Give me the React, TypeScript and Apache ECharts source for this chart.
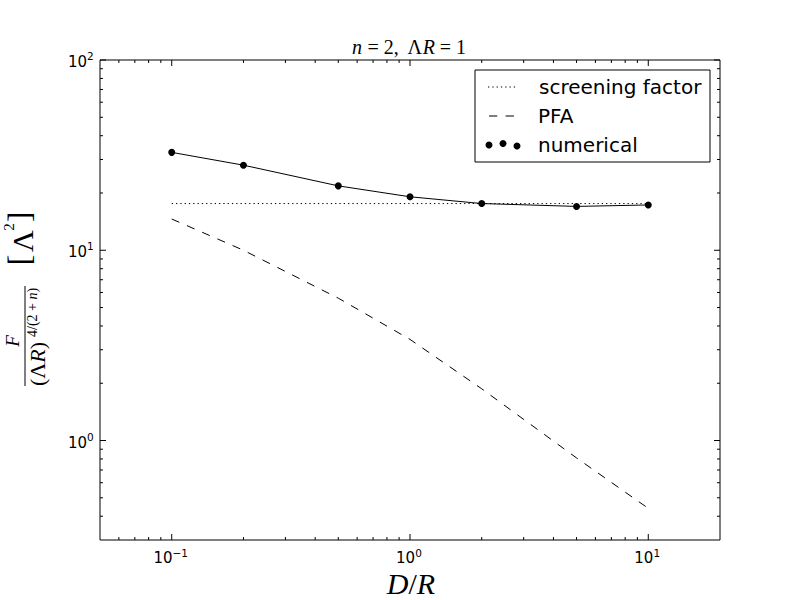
import React, { useEffect, useRef } from "react";
import * as echarts from "echarts";

// ---- data ----
const xValues = [0.1, 0.2, 0.5, 1, 2, 5, 10];
const numericalValues = [32.7, 28.0, 21.8, 19.1, 17.6, 17.0, 17.3];
const pfaValues = [14.6, 10.0, 5.6, 3.4, 1.87, 0.81, 0.44];
const screeningX = [0.1, 10];
const screeningValues = [17.6, 17.6];
const seriesNames = ["screening factor", "PFA", "numerical"];

const xMajorTicks = [0.1, 1, 10];
const xMajorExponents = ["\u22121", "0", "1"];
const xMinorTicks = [0.06, 0.07, 0.08, 0.09, 0.2, 0.3, 0.4, 0.5, 0.6, 0.7, 0.8, 0.9, 2, 3, 4, 5, 6, 7, 8, 9];
const yMajorTicks = [1, 10, 100];
const yMajorExponents = ["0", "1", "2"];
const yMinorTicks = [0.4, 0.5, 0.6, 0.7, 0.8, 0.9, 2, 3, 4, 5, 6, 7, 8, 9, 20, 30, 40, 50, 60, 70, 80, 90];

const X_MIN = 0.05;
const X_MAX = 20;
const Y_MIN = 0.3;
const Y_MAX = 100;

const SANS = '"DejaVu Sans", sans-serif';
const SERIF = '"Liberation Serif", "DejaVu Serif", serif';
const BASE_FONT = `15px ${SANS}`;
const SUP_FONT = `10.5px ${SANS}`;

function supWidth(s: string) {
  let w = 0;
  for (const ch of s) w += ch === "\u2212" ? 8.8 : 6.7;
  return w;
}

const xTickItems = [
  ...xMajorTicks.map((v, i) => ({ v, major: true, exp: xMajorExponents[i] })),
  ...xMinorTicks.map((v) => ({ v, major: false, exp: "" })),
];
const yTickItems = [
  ...yMajorTicks.map((v, i) => ({ v, major: true, exp: yMajorExponents[i] })),
  ...yMinorTicks.map((v) => ({ v, major: false, exp: "" })),
];

function tickLine(x1: number, y1: number, x2: number, y2: number) {
  return {
    type: "line",
    shape: { x1, y1, x2, y2 },
    style: { stroke: "#000", lineWidth: 1 },
  };
}

function txt(x: number, y: number, text: string, font: string, align: string, extra: any = {}) {
  return {
    type: "text",
    x,
    y,
    style: {
      text,
      font,
      fill: "#000",
      align,
      textAlign: align,
      verticalAlign: "middle",
      textVerticalAlign: "middle",
      ...extra,
    },
  };
}

// math text: plain serif with italic tokens {i|...}
function mtxt(x: number, y: number, text: string, size: number, align: string) {
  return {
    type: "text",
    x,
    y,
    style: {
      text,
      fontSize: size,
      fontFamily: SERIF,
      fontStyle: "normal",
      fill: "#000",
      align,
      textAlign: align,
      verticalAlign: "middle",
      textVerticalAlign: "middle",
      rich: {
        r: { fontSize: size, fontFamily: SERIF, fontStyle: "normal", fill: "#000" },
        i: { fontSize: size, fontFamily: SERIF, fontStyle: "italic", fill: "#000" },
      },
    },
  };
}

export default function App() {
  const ref = useRef<HTMLDivElement>(null);

  useEffect(() => {
    if (!ref.current) return;
    const chart = echarts.init(ref.current, null, { renderer: "svg" });

    const option: any = {
      animation: false,
      backgroundColor: "#fff",
      grid: {
        left: 100,
        right: 80,
        top: 60,
        bottom: 60,
        show: true,
        borderColor: "#000",
        borderWidth: 1,
        backgroundColor: "transparent",
      },
      xAxis: {
        type: "log",
        logBase: 10,
        min: X_MIN,
        max: X_MAX,
        show: false,
      },
      yAxis: {
        type: "log",
        logBase: 10,
        min: Y_MIN,
        max: Y_MAX,
        show: false,
      },
      series: [
        {
          name: seriesNames[0],
          type: "line",
          data: screeningX.map((x, i) => [x, screeningValues[i]]),
          symbol: "none",
          silent: true,
          lineStyle: { color: "#000", width: 1, type: [1.3, 3] },
          z: 2,
        },
        {
          name: seriesNames[1],
          type: "line",
          data: xValues.map((x, i) => [x, pfaValues[i]]),
          symbol: "none",
          silent: true,
          lineStyle: { color: "#000", width: 1, type: [8.3, 8.3] },
          z: 2,
        },
        {
          name: seriesNames[2],
          type: "line",
          data: xValues.map((x, i) => [x, numericalValues[i]]),
          symbol: "circle",
          symbolSize: 7,
          silent: true,
          itemStyle: { color: "#000" },
          lineStyle: { color: "#000", width: 1 },
          z: 3,
        },
        {
          type: "custom",
          silent: true,
          clip: false,
          z: 4,
          data: xTickItems.map((t) => [t.v, 1]),
          renderItem: (params: any, api: any) => {
            const item = xTickItems[params.dataIndex];
            const cs = params.coordSys;
            const px = api.coord([api.value(0), api.value(1)])[0];
            const len = item.major ? 6 : 3;
            const bottom = cs.y + cs.height;
            const top = cs.y;
            const children: any[] = [
              tickLine(px, bottom, px, bottom - len),
              tickLine(px, top, px, top + len),
            ];
            if (item.major) {
              const w10 = 17;
              const ws = supWidth(item.exp);
              const xr = px + (w10 - ws) / 2;
              children.push(txt(xr, bottom + 18, "10", BASE_FONT, "right"));
              children.push(txt(xr, bottom + 12.5, item.exp, SUP_FONT, "left"));
            }
            return { type: "group", children };
          },
        },
        {
          type: "custom",
          silent: true,
          clip: false,
          z: 4,
          data: yTickItems.map((t) => [1, t.v]),
          renderItem: (params: any, api: any) => {
            const item = yTickItems[params.dataIndex];
            const cs = params.coordSys;
            const py = api.coord([api.value(0), api.value(1)])[1];
            const len = item.major ? 6 : 3;
            const left = cs.x;
            const right = cs.x + cs.width;
            const children: any[] = [
              tickLine(left, py, left + len, py),
              tickLine(right, py, right - len, py),
            ];
            if (item.major) {
              children.push(txt(left - 13, py + 2, "10", BASE_FONT, "right"));
              children.push(txt(left - 13, py - 4, item.exp, SUP_FONT, "left"));
            }
            return { type: "group", children };
          },
        },
      ],
      graphic: [
        // title
        mtxt(409, 47, "{i|n}{r| = 2,  \u039B}{i|R}{r| = 1}", 20, "center"),
        // x-axis label
        mtxt(411, 583.5, "{i|D}{r|/}{i|R}", 30, "center"),
        // y-axis label (rotated)
        {
          type: "group",
          x: 25,
          y: 336,
          rotation: Math.PI / 2,
          children: [
            {
              type: "line",
              shape: { x1: -50, y1: 0, x2: 50, y2: 0 },
              style: { stroke: "#000", lineWidth: 1 },
            },
            mtxt(-5, -12.5, "{i|F}", 19, "center"),
            mtxt(-50, 12, "{r|(\u039B}{i|R}{r|)}", 22, "left"),
            mtxt(-1, 7, "{r|4/(2 + }{i|n}{r|)}", 14, "left"),
            txt(76, -6, "[", `32px ${SERIF}`, "center"),
            txt(95, -2.5, "\u039B", `30px ${SERIF}`, "center"),
            txt(109, -16, "2", `15px ${SERIF}`, "center"),
            txt(119, -6, "]", `32px ${SERIF}`, "center"),
          ],
        },
        // legend
        {
          type: "rect",
          shape: { x: 475, y: 70, width: 235, height: 92 },
          style: { fill: "#fff", stroke: "#000", lineWidth: 1 },
          z: 10,
        },
        {
          type: "line",
          shape: { x1: 488, y1: 87, x2: 518, y2: 87 },
          style: { stroke: "#000", lineWidth: 1, lineDash: [1.3, 3] },
          z: 11,
        },
        {
          type: "line",
          shape: { x1: 489, y1: 116, x2: 515, y2: 116 },
          style: { stroke: "#000", lineWidth: 1, lineDash: [8.3, 8.3] },
          z: 11,
        },
        { type: "circle", shape: { cx: 489, cy: 145, r: 3.5 }, style: { fill: "#000" }, z: 11 },
        { type: "circle", shape: { cx: 503, cy: 143.5, r: 3.5 }, style: { fill: "#000" }, z: 11 },
        { type: "circle", shape: { cx: 517, cy: 146, r: 3.5 }, style: { fill: "#000" }, z: 11 },
        { ...txt(539, 86.5, seriesNames[0], `20px ${SANS}`, "left"), z: 11 },
        { ...txt(538, 116.4, seriesNames[1], `20px ${SANS}`, "left"), z: 11 },
        { ...txt(538, 144.8, seriesNames[2], `20px ${SANS}`, "left"), z: 11 },
      ],
    };

    chart.setOption(option);
    return () => {
      chart.dispose();
    };
  }, []);

  return (
    <div
      ref={ref}
      style={{ position: "fixed", left: 0, top: 0, width: 800, height: 600, background: "#fff" }}
    />
  );
}
